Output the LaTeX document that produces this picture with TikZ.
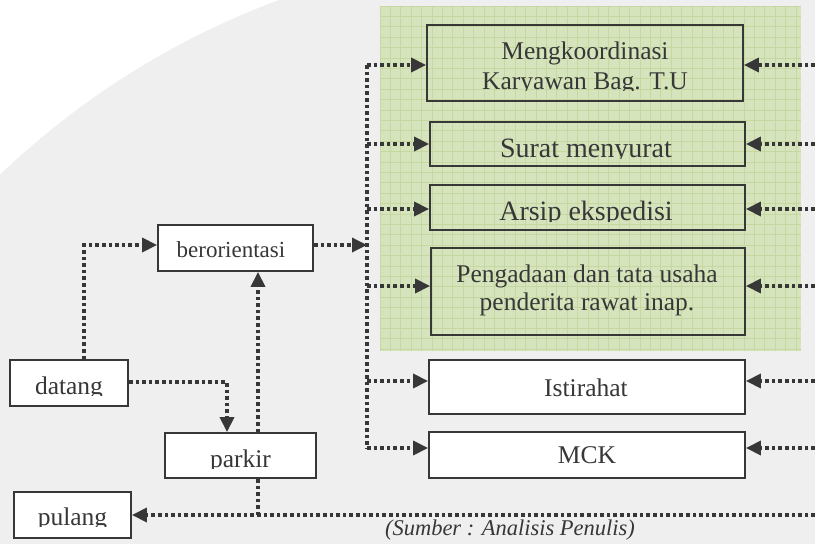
\documentclass[tikz,border=0pt]{standalone}
\usepackage{fontspec}
\setmainfont{Liberation Serif}
\usetikzlibrary{arrows.meta}

\definecolor{ink}{RGB}{55,55,55}
\definecolor{wash}{RGB}{239,239,239}
\definecolor{greenfill}{RGB}{214,228,190}
\definecolor{greengrid}{RGB}{198,216,160}

\tikzset{
  box/.style={draw=ink, line width=1.8pt, inner sep=0pt},
  whitebox/.style={box, fill=white},
  lbl/.style={text=ink, inner sep=0pt, anchor=base, font=\fontsize{25.5}{29}\selectfont},
  widelbl/.style={lbl, font=\fontsize{28}{32}\selectfont},
  smalllbl/.style={lbl, font=\fontsize{23}{26}\selectfont},
  sourcelbl/.style={text=ink, inner sep=0pt, anchor=base, font=\fontsize{22.5}{26}\selectfont\itshape},
  link/.style={draw=ink, line width=3.4pt, dash pattern=on 3.6pt off 3pt},
  flow/.style={link, -{Triangle[length=15pt,width=14pt]}},
}

\begin{document}
\begin{tikzpicture}[x=1pt,y=-1pt]
  \useasboundingbox (0,0) rectangle (815,544);
  \fill[white] (0,0) rectangle (815,544);

  % faint background seal
  \begin{scope}
    \clip (0,0) rectangle (815,544);
    \fill[wash] (560,760) circle[radius=810];
  \end{scope}

  % green panel with grid
  \fill[greenfill] (380,6) rectangle (801,351);
  \begin{scope}
    \clip (380,6) rectangle (801,351);
    \foreach \i in {0,...,41} {
      \draw[greengrid, line width=0.8pt] (380+10.4*\i,6) -- (380+10.4*\i,351);
    }
    \foreach \j in {0,...,33} {
      \draw[greengrid, line width=0.8pt] (380,6+10.4*\j) -- (801,6+10.4*\j);
    }
  \end{scope}

  % activity boxes
  \node[box, minimum width=316pt, minimum height=76pt] (mk) at (585,63) {};
  \node[box, minimum width=315pt, minimum height=44pt] (sm) at (587.5,144) {};
  \node[box, minimum width=315pt, minimum height=45pt] (ae) at (587.5,207.5) {};
  \node[box, minimum width=314pt, minimum height=87pt] (pg) at (588,291.5) {};
  \node[whitebox, minimum width=316pt, minimum height=54pt] (is) at (587,387) {};
  \node[whitebox, minimum width=316pt, minimum height=46pt] (mc) at (587,455) {};

  % flow boxes
  \node[whitebox, minimum width=155pt, minimum height=46pt] (bo) at (235.5,248) {};
  \node[whitebox, minimum width=118pt, minimum height=46pt] (dt) at (69,383) {};
  \node[whitebox, minimum width=151pt, minimum height=45pt] (pk) at (240.5,455.5) {};
  \node[whitebox, minimum width=117pt, minimum height=46pt] (pl) at (72.5,515) {};

  % labels (descenders trimmed by the box frames)
  \node[lbl] (mk-t1) at (585,59) {Mengkoordinasi};
  \begin{scope}
    \clip (427,60) rectangle (743,90);
    \node[lbl] (mk-t2) at (585,89) {Karyawan Bag. T.U};
  \end{scope}
  \begin{scope}
    \clip (430,122) rectangle (745,158);
    \node[widelbl] (sm-t) at (586,157) {Surat menyurat};
  \end{scope}
  \begin{scope}
    \clip (430,185) rectangle (745,221);
    \node[widelbl] (ae-t) at (586,220) {Arsip ekspedisi};
  \end{scope}
  \node[lbl] (pg-t1) at (587,282) {Pengadaan dan tata usaha};
  \node[lbl] (pg-t2) at (587,310) {penderita rawat inap.};
  \node[lbl] (is-t) at (586,396) {Istirahat};
  \node[lbl] (mc-t) at (587,463) {MCK};
  \node[smalllbl] (bo-t) at (231,257) {berorientasi};
  \begin{scope}
    \clip (10,360) rectangle (128,395);
    \node[lbl] (dt-t) at (69,394) {datang};
  \end{scope}
  \begin{scope}
    \clip (165,433) rectangle (316,468);
    \node[lbl] (pk-t) at (240.5,467) {parkir};
  \end{scope}
  \begin{scope}
    \clip (14,492) rectangle (131,526);
    \node[lbl] (pl-t) at (72.5,525) {pulang};
  \end{scope}

  \node[sourcelbl] (src) at (510,535) {(Sumber : Analisis Penulis)};

  % distribution bus on the left of the activity boxes
  \coordinate (b1) at (367,65);
  \coordinate (b2) at (367,144);
  \coordinate (b3) at (367,209);
  \coordinate (b4) at (367,286);
  \coordinate (b5) at (367,381);
  \coordinate (b6) at (367,448);
  \coordinate (bj) at (367,245);
  \draw[link] (b1) -- (b6);
  \draw[flow] (b1) -- (b1 -| mk.west);
  \draw[flow] (b2) -- (b2 -| sm.west);
  \draw[flow] (b3) -- (b3 -| ae.west);
  \draw[flow] (b4) -- (b4 -| pg.west);
  \draw[flow] (b5) -- (b5 -| is.west);
  \draw[flow] (b6) -- (b6 -| mc.west);
  \draw[flow] (bj -| bo.east) -- (bj);

  % return lines entering from the right
  \coordinate (r1) at (815,65);
  \coordinate (r2) at (815,144);
  \coordinate (r3) at (815,209);
  \coordinate (r4) at (815,286);
  \coordinate (r5) at (815,381);
  \coordinate (r6) at (815,448);
  \coordinate (rb) at (815,515);
  \draw[flow] (r1) -- (r1 -| mk.east);
  \draw[flow] (r2) -- (r2 -| sm.east);
  \draw[flow] (r3) -- (r3 -| ae.east);
  \draw[flow] (r4) -- (r4 -| pg.east);
  \draw[flow] (r5) -- (r5 -| is.east);
  \draw[flow] (r6) -- (r6 -| mc.east);
  \draw[flow] (rb) -- (rb -| pl.east);

  % arrival flow
  \coordinate (k1) at (84,245);
  \coordinate (k2) at (227,382);
  \coordinate (k3) at (258,515);
  \draw[flow] (k1 |- dt.north) -- (k1) -- (k1 -| bo.west);
  \draw[flow] (k2 -| dt.east) -- (k2) -- (k2 |- pk.north);
  \draw[flow] (k3 |- pk.north) -- (k3 |- bo.south);
  \draw[link] (k3 |- pk.south) -- (k3);
\end{tikzpicture}
\end{document}
